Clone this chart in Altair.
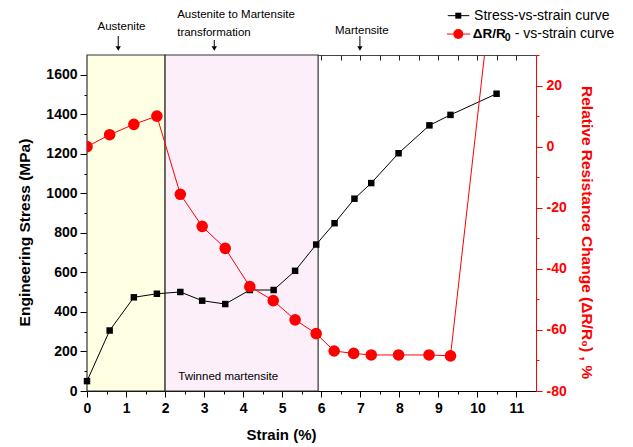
import altair as alt
import pandas as pd

# ---------------- data ----------------
strain_stress = [0, 0.58, 1.2, 1.79, 2.39, 2.95, 3.54, 4.17, 4.78, 5.33, 5.87,
                 6.34, 6.85, 7.28, 7.98, 8.77, 9.31, 10.49]
stress_mpa = [50, 306, 474, 492, 501, 457, 440, 511, 511, 608, 741,
              849, 973, 1052, 1203, 1344, 1397, 1504]

strain_res = [0, 0.58, 1.2, 1.79, 2.39, 2.95, 3.54, 4.17, 4.77, 5.33, 5.87,
              6.33, 6.83, 7.28, 7.98, 8.76, 9.31, 10.49]
res_change = [0, 3.9, 7.3, 10, -15.6, -26.1, -33.3, -45.8, -50.4, -56.7, -61.2,
              -66.9, -67.7, -68.2, -68.2, -68.2, -68.5, 65]

region_names = ["Austenite", "Austenite to Martensite transformation"]
region_start = [0.0, 2.0]
region_end = [2.0, 5.92]
region_colors = ["#FFFFE3", "#FDEFFA"]

# annotations (strain, stress-scale level)
ann_text_center = ["Austenite", "Martensite"]
ann_x_center = [0.884, 7.04]
ann_y_center = [1843, 1821]
ann_text_left = ["Austenite to Martensite", "transformation", "Twinned martensite"]
ann_x_left = [2.31, 2.31, 2.34]
ann_y_left = [1902, 1810, 69]

arrow_x = [0.80, 3.26, 6.99]
arrow_from = [1796, 1776, 1796]
arrow_to = [1742, 1742, 1742]
arrow_head = [1733, 1733, 1733]

legend_labels = ["Stress-vs-strain curve", "- vs-strain curve"]
legend_y = [1899, 1806]
legend_line_x0 = [9.24, 9.22]
legend_line_x1 = [9.79, 9.81]
legend_marker_x = [9.51, 9.51]
legend_text_x = [9.915, 9.88]

# ---------------- layout / style ----------------
FONT = "Liberation Sans"
W, H = 449, 336
X_DOMAIN = [0, 11.5]
S_DOMAIN = [0, 1700]
R_DOMAIN = [-80, 30]
RED = "#FF0000"

xs = alt.Scale(domain=X_DOMAIN, nice=False, zero=False)
ys = alt.Scale(domain=S_DOMAIN, nice=False, zero=False)
yr = alt.Scale(domain=R_DOMAIN, nice=False, zero=False)

x_ticks = [i * 0.5 for i in range(0, 23)]
top_ticks = [i * 0.5 for i in range(1, 23)]
s_ticks = list(range(0, 1700, 100))
r_ticks = list(range(-80, 31, 10))

stress_df = pd.DataFrame({"strain": strain_stress, "stress": stress_mpa})
res_df = pd.DataFrame({"strain": strain_res, "res": res_change})
region_df = pd.DataFrame({
    "name": region_names, "x0": region_start, "x1": region_end,
    "color": region_colors, "lo": S_DOMAIN[0], "hi": S_DOMAIN[1],
})
annc_df = pd.DataFrame({"t": ann_text_center, "x": ann_x_center, "y": ann_y_center})
annl_df = pd.DataFrame({"t": ann_text_left, "x": ann_x_left, "y": ann_y_left})
arrow_df = pd.DataFrame({"x": arrow_x, "y0": arrow_from, "y1": arrow_to, "yh": arrow_head})
leg_df = pd.DataFrame({"t": legend_labels, "y": legend_y, "x0": legend_line_x0,
                       "x1": legend_line_x1, "xm": legend_marker_x, "xt": legend_text_x})


def X(field):
    return alt.X(field, type="quantitative", scale=xs, axis=None)


def YS(field):
    return alt.Y(field, type="quantitative", scale=ys, axis=None)


# shaded regions, host of the top (mirror) axis
regions = alt.Chart(region_df).mark_rect(stroke="#333333", strokeWidth=1.2).encode(
    x=alt.X("x0:Q", scale=xs, axis=alt.Axis(
        orient="top", values=top_ticks, labels=False, domain=False, grid=False,
        tickSize=5, offset=-5, tickColor="#222222", tickWidth=1, title=None)),
    x2="x1:Q",
    y=YS("lo:Q"),
    y2="hi:Q",
    fill=alt.Color("color:N", scale=None),
)

stress_line = alt.Chart(stress_df).mark_line(color="black", strokeWidth=1).encode(
    x=alt.X("strain:Q", scale=xs, axis=alt.Axis(
        orient="bottom", values=x_ticks, grid=False, domainColor="black", domainWidth=1,
        tickColor="black", tickWidth=1,
        tickSize={"condition": {"test": "datum.value % 1 !== 0", "value": 3}, "value": 6},
        labelExpr="datum.value % 1 === 0 ? '' + datum.value : ''",
        labelFont=FONT, labelFontSize=14, labelFontWeight="bold", labelColor="black",
        labelPadding=4, labelOverlap=False, labelFlush=False, labelAngle=0,
        title="Strain (%)", titleFont=FONT, titleFontSize=15, titleFontWeight="bold",
        titleColor="black", titleX=194, titleY=43, titleAlign="center",
        titleBaseline="middle")),
    y=alt.Y("stress:Q", scale=ys, axis=alt.Axis(
        orient="left", values=s_ticks, grid=False, domainColor="black", domainWidth=1,
        tickColor="black", tickWidth=1,
        tickSize={"condition": {"test": "datum.value % 200 !== 0", "value": 3}, "value": 7},
        labelExpr="datum.value % 200 === 0 ? '' + datum.value : ''",
        labelFont=FONT, labelFontSize=14, labelFontWeight="bold", labelColor="black",
        labelPadding=3, labelOverlap=False, labelFlush=False,
        title="Engineering Stress (MPa)", titleFont=FONT, titleFontSize=15.5,
        titleFontWeight="bold", titleColor="black", titleAngle=270,
        titleX=-63, titleY=177, titleAlign="center", titleBaseline="middle")),
)

stress_pts = alt.Chart(stress_df).mark_point(
    shape="square", filled=True, color="black", size=42, opacity=1).encode(
    x=X("strain"), y=YS("stress"))

res_line = alt.Chart(res_df).mark_line(color=RED, strokeWidth=1, clip=True).encode(
    x=X("strain"),
    y=alt.Y("res:Q", scale=yr, axis=alt.Axis(
        orient="right", values=r_ticks, grid=False, domainColor=RED, domainWidth=1,
        tickColor=RED, tickWidth=1,
        tickSize={"condition": {"test": "datum.value % 20 !== 0", "value": 3}, "value": 6},
        labelExpr="datum.value % 20 === 0 ? '' + datum.value : ''",
        labelFont=FONT, labelFontSize=14, labelFontWeight="bold", labelColor=RED,
        labelPadding=4, labelOverlap=False, labelFlush=False,
        title="Relative Resistance Change (\u0394R/R\u2080) , %", titleFont=FONT,
        titleFontSize=15.5, titleFontWeight="bold", titleColor=RED, titleAngle=90,
        titleX=50, titleY=177, titleAlign="center", titleBaseline="middle")),
)

res_pts = alt.Chart(res_df).mark_point(
    shape="circle", filled=True, color=RED, size=135, opacity=1, clip=True).encode(
    x=X("strain"), y=alt.Y("res:Q", scale=yr, axis=None))

# annotations
ann_c = alt.Chart(annc_df).mark_text(
    font=FONT, fontSize=11.5, color="black", align="center", baseline="middle").encode(
    x=X("x"), y=YS("y"), text="t:N")
ann_l = alt.Chart(annl_df).mark_text(
    font=FONT, fontSize=11.5, color="black", align="left", baseline="middle").encode(
    x=X("x"), y=YS("y"), text="t:N")
arrows = alt.Chart(arrow_df).mark_rule(color="black", strokeWidth=1).encode(
    x=X("x"), y=YS("y0"), y2="y1:Q")
heads = alt.Chart(arrow_df).mark_point(
    shape="triangle-down", filled=True, color="black", size=28, opacity=1).encode(
    x=X("x"), y=YS("yh"))

# legend
leg_lines = alt.Chart(leg_df).mark_rule(strokeWidth=1).encode(
    x=X("x0"), x2="x1:Q", y=YS("y"),
    color=alt.Color("t:N", scale=alt.Scale(domain=legend_labels, range=["black", RED]),
                    legend=None))
leg_sq = alt.Chart(leg_df.iloc[[0]]).mark_point(
    shape="square", filled=True, color="black", size=36, opacity=1).encode(
    x=X("xm"), y=YS("y"))
leg_ci = alt.Chart(leg_df.iloc[[1]]).mark_point(
    shape="circle", filled=True, color=RED, size=100, opacity=1).encode(
    x=X("xm"), y=YS("y"))
leg_t1 = alt.Chart(leg_df.iloc[[0]]).mark_text(
    font=FONT, fontSize=14, color="black", align="left", baseline="middle").encode(
    x=X("xt"), y=YS("y"), text="t:N")
leg_t2a = alt.Chart(leg_df.iloc[[1]]).mark_text(
    font=FONT, fontSize=13.5, fontWeight="bold", color="black", align="left",
    baseline="middle", text="\u0394R/R").encode(x=X("xt"), y=YS("y"))
leg_t2b = alt.Chart(leg_df.iloc[[1]]).mark_text(
    font=FONT, fontSize=10.5, fontWeight="bold", color="black", align="left",
    baseline="middle", text="0", dx=32, dy=4).encode(x=X("xt"), y=YS("y"))
leg_t2c = alt.Chart(leg_df.iloc[[1]]).mark_text(
    font=FONT, fontSize=14, color="black", align="left", baseline="middle",
    dx=42).encode(x=X("xt"), y=YS("y"), text="t:N")

chart = alt.layer(
    regions, stress_line, stress_pts, res_line, res_pts,
    ann_c, ann_l, arrows, heads,
    leg_lines, leg_sq, leg_ci, leg_t1, leg_t2a, leg_t2b, leg_t2c,
).resolve_scale(
    y="independent", color="independent"
).resolve_axis(
    x="independent", y="independent"
).properties(
    width=W, height=H, autosize="none",
    padding={"left": 79, "top": 47, "right": 89, "bottom": 52},
    background="white",
).configure_view(
    stroke="#444444", strokeWidth=1
)

chart.save("out.html", embed_options={"renderer": "svg", "actions": False})
